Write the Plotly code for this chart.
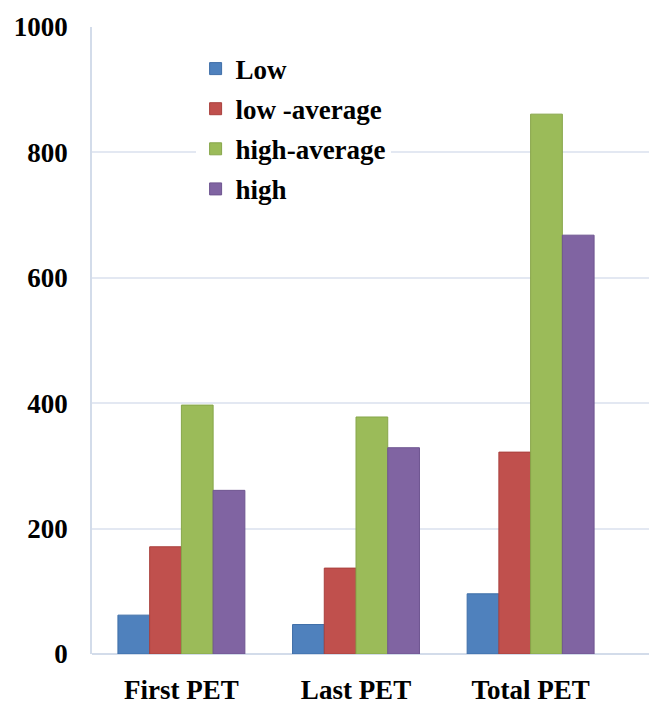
import plotly.graph_objects as go

categories = ["First PET", "Last PET", "Total PET"]
series_names = ["Low", "low -average", "high-average", "high"]
low = [62, 47, 96]
low_average = [171, 137, 322]
high_average = [397, 378, 861]
high = [261, 329, 668]
y_ticks = [0, 200, 400, 600, 800, 1000]

colors = ["#4F81BD", "#C0504D", "#9BBB59", "#8064A2"]
edges = ["#3F6FA8", "#A9403D", "#87A64A", "#6E5590"]

family = "Liberation Serif"
font = dict(family=family, size=27, color="#000000", weight="bold")

fig = go.Figure()
for i, (name, vals) in enumerate(zip(series_names, [low, low_average, high_average, high])):
    fig.add_trace(go.Bar(
        x=categories, y=vals, name=name,
        marker=dict(color=colors[i], line=dict(color=edges[i], width=1)),
        legendgroup=name,
    ))

fig.update_layout(
    width=649, height=707,
    margin=dict(l=92, r=0, t=27, b=53, autoexpand=False),
    paper_bgcolor="white", plot_bgcolor="white",
    barmode="group", bargap=0.273, bargroupgap=0,
    font=font,
    legend=dict(
        x=0.186, xanchor="left",
        y=0.972, yanchor="top",
        bgcolor="white", borderwidth=0,
        font=font,
        traceorder="grouped", tracegroupgap=2,
        itemwidth=30,
    ),
    showlegend=True,
)

fig.update_xaxes(
    type="category", range=[-0.512, 2.678],
    tickangle=0, automargin=False,
    showgrid=False, showline=False, zeroline=False,
    ticks="", ticklabelstandoff=17,
    tickfont=font,
)
fig.update_yaxes(
    range=[0, 1000], tickvals=y_ticks,
    automargin=False,
    showgrid=True, gridcolor="#E3E8F2", gridwidth=1.5,
    showline=True, linecolor="#D3DCEA", linewidth=1.5,
    zeroline=True, zerolinecolor="#D3DCEA", zerolinewidth=1.5,
    ticks="", ticklabelstandoff=17,
    tickfont=font,
)

fig.write_html("out.html")
